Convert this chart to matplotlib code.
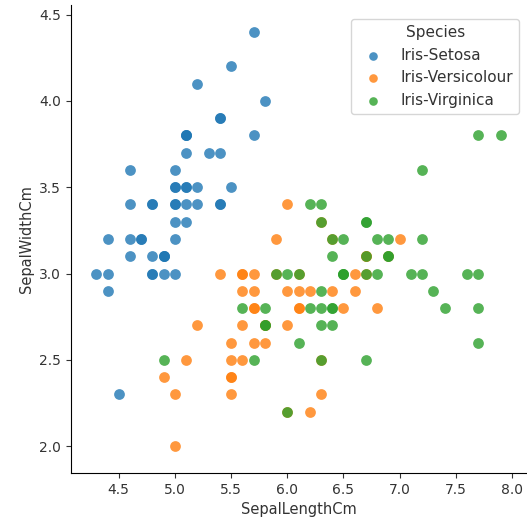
import matplotlib
matplotlib.use("Agg")
import matplotlib.pyplot as plt

species = ["Iris-Setosa", "Iris-Versicolour", "Iris-Virginica"]

setosa_length = [5.1, 4.9, 4.7, 4.6, 5.0, 5.4, 4.6, 5.0, 4.4, 4.9, 5.4, 4.8, 4.8, 4.3, 5.8,
                 5.7, 5.4, 5.1, 5.7, 5.1, 5.4, 5.1, 4.6, 5.1, 4.8, 5.0, 5.0, 5.2, 5.2, 4.7,
                 4.8, 5.4, 5.2, 5.5, 4.9, 5.0, 5.5, 4.9, 4.4, 5.1, 5.0, 4.5, 4.4, 5.0, 5.1,
                 4.8, 5.1, 4.6, 5.3, 5.0]
setosa_width = [3.5, 3.0, 3.2, 3.1, 3.6, 3.9, 3.4, 3.4, 2.9, 3.1, 3.7, 3.4, 3.0, 3.0, 4.0,
                4.4, 3.9, 3.5, 3.8, 3.8, 3.4, 3.7, 3.6, 3.3, 3.4, 3.0, 3.4, 3.5, 3.4, 3.2,
                3.1, 3.4, 4.1, 4.2, 3.1, 3.2, 3.5, 3.1, 3.0, 3.4, 3.5, 2.3, 3.2, 3.5, 3.8,
                3.0, 3.8, 3.2, 3.7, 3.3]

versicolour_length = [7.0, 6.4, 6.9, 5.5, 6.5, 5.7, 6.3, 4.9, 6.6, 5.2, 5.0, 5.9, 6.0, 6.1, 5.6,
                      6.7, 5.6, 5.8, 6.2, 5.6, 5.9, 6.1, 6.3, 6.1, 6.4, 6.6, 6.8, 6.7, 6.0, 5.7,
                      5.5, 5.5, 5.8, 6.0, 5.4, 6.0, 6.7, 6.3, 5.6, 5.5, 5.5, 6.1, 5.8, 5.0, 5.6,
                      5.7, 5.7, 6.2, 5.1, 5.7]
versicolour_width = [3.2, 3.2, 3.1, 2.3, 2.8, 2.8, 3.3, 2.4, 2.9, 2.7, 2.0, 3.0, 2.2, 2.9, 2.9,
                     3.1, 3.0, 2.7, 2.2, 2.5, 3.2, 2.8, 2.5, 2.8, 2.9, 3.0, 2.8, 3.0, 2.9, 2.6,
                     2.4, 2.4, 2.7, 2.7, 3.0, 3.4, 3.1, 2.3, 3.0, 2.5, 2.6, 3.0, 2.6, 2.3, 2.7,
                     3.0, 2.9, 2.9, 2.5, 2.8]

virginica_length = [6.3, 5.8, 7.1, 6.3, 6.5, 7.6, 4.9, 7.3, 6.7, 7.2, 6.5, 6.4, 6.8, 5.7, 5.8,
                    6.4, 6.5, 7.7, 7.7, 6.0, 6.9, 5.6, 7.7, 6.3, 6.7, 7.2, 6.2, 6.1, 6.4, 7.2,
                    7.4, 7.9, 6.4, 6.3, 6.1, 7.7, 6.3, 6.4, 6.0, 6.9, 6.7, 6.9, 5.8, 6.8, 6.7,
                    6.7, 6.3, 6.5, 6.2, 5.9]
virginica_width = [3.3, 2.7, 3.0, 2.9, 3.0, 3.0, 2.5, 2.9, 2.5, 3.6, 3.2, 2.7, 3.0, 2.5, 2.8,
                   3.2, 3.0, 3.8, 2.6, 2.2, 3.2, 2.8, 2.8, 2.7, 3.3, 3.2, 2.8, 3.0, 2.8, 3.0,
                   2.8, 3.8, 2.8, 2.8, 2.6, 3.0, 3.4, 3.1, 3.0, 3.1, 3.1, 3.1, 2.7, 3.2, 3.3,
                   3.0, 2.5, 3.0, 3.4, 3.0]

colors = ["#1f77b4", "#ff7f0e", "#2ca02c"]

W, H = 527, 523
fig = plt.figure(figsize=(W / 100, H / 100), dpi=100)
ax = fig.add_axes([71 / W, 1 - 473 / H, (526 - 71) / W, (473 - 5) / H])

series = [(setosa_length, setosa_width),
          (versicolour_length, versicolour_width),
          (virginica_length, virginica_width)]
for name, (xs, ys), c in zip(species, series, colors):
    ax.scatter(xs, ys, s=60, color=c, alpha=0.8, linewidths=0, label=name)

ax.set_xlim(4.075, 8.125)
ax.set_ylim(1.844, 4.556)
ax.set_xticks([4.5, 5.0, 5.5, 6.0, 6.5, 7.0, 7.5, 8.0])
ax.set_yticks([2.0, 2.5, 3.0, 3.5, 4.0, 4.5])
ax.spines["top"].set_visible(False)
ax.spines["right"].set_visible(False)
ax.tick_params(labelsize=10, colors="#333333", labelcolor="#333333")
ax.set_xlabel("SepalLengthCm", fontsize=10.5, color="#333333")
ax.set_ylabel("SepalWidthCm", fontsize=10.5, color="#333333")

leg = ax.legend(title="Species", loc="upper right", bbox_to_anchor=(519 / W, 1 - 19 / H),
                bbox_transform=fig.transFigure, fontsize=11, title_fontsize=11,
                markerscale=0.8, borderaxespad=0)
for t in leg.get_texts():
    t.set_color("#333333")
leg.get_title().set_color("#333333")

fig.savefig("out.png", dpi=100)
